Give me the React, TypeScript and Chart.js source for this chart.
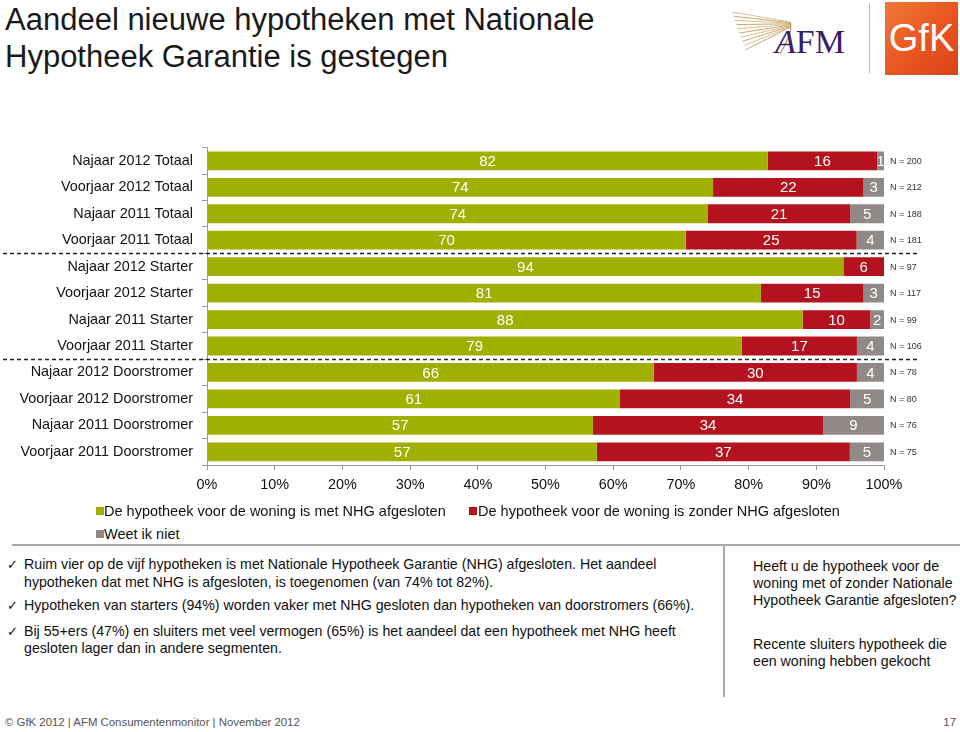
import React, { useEffect, useRef } from "react";
import { Chart, registerables } from "chart.js";

Chart.register(...registerables);

const categories = [
  "Najaar 2012 Totaal",
  "Voorjaar 2012 Totaal",
  "Najaar 2011 Totaal",
  "Voorjaar 2011 Totaal",
  "Najaar 2012 Starter",
  "Voorjaar 2012 Starter",
  "Najaar 2011 Starter",
  "Voorjaar 2011 Starter",
  "Najaar 2012 Doorstromer",
  "Voorjaar 2012 Doorstromer",
  "Najaar 2011 Doorstromer",
  "Voorjaar 2011 Doorstromer",
];
const metNHG = [82, 74, 74, 70, 94, 81, 88, 79, 66, 61, 57, 57];
const zonderNHG = [16, 22, 21, 25, 6, 15, 10, 17, 30, 34, 34, 37];
const weetNiet = [1, 3, 5, 4, 0, 3, 2, 4, 4, 5, 9, 5];
const sampleSizes = [200, 212, 188, 181, 97, 117, 99, 106, 78, 80, 76, 75];
const groupBreaks = [4, 8];
const seriesNames = [
  "De hypotheek voor de woning is met NHG afgesloten",
  "De hypotheek voor de woning is zonder NHG afgesloten",
  "Weet ik niet",
];
const seriesColors = ["#A0B000", "#B5121F", "#918987"];

const FONT = "'Liberation Sans', Arial, sans-serif";

const rawSeries = [metNHG, zonderNHG, weetNiet];
const totals = metNHG.map((v, i) => v + zonderNHG[i] + weetNiet[i]);
const shares = rawSeries.map((s) => s.map((v, i) => (v / totals[i]) * 100));

const overlayPlugin = {
  id: "overlay",
  afterDatasetsDraw(chart: any) {
    const ctx = chart.ctx;
    ctx.save();
    ctx.font = `15px ${FONT}`;
    ctx.fillStyle = "#ffffff";
    ctx.textAlign = "center";
    ctx.textBaseline = "middle";
    chart.data.datasets.forEach((ds: any, di: number) => {
      const meta = chart.getDatasetMeta(di);
      meta.data.forEach((el: any, i: number) => {
        const v = rawSeries[di][i];
        if (!v) return;
        const cx = (el.x + el.base) / 2;
        ctx.fillText(String(v), cx, el.y + 1);
      });
    });
    const yScale = chart.scales.y;
    const area = chart.chartArea;
    ctx.font = `9px ${FONT}`;
    ctx.fillStyle = "#333333";
    ctx.textAlign = "left";
    sampleSizes.forEach((n, i) => {
      ctx.fillText(`N = ${n}`, area.right + 6, yScale.getPixelForValue(i) + 0.5);
    });
    ctx.strokeStyle = "#222222";
    ctx.lineWidth = 1.5;
    ctx.setLineDash([4, 3]);
    groupBreaks.forEach((b) => {
      const y = Math.round((yScale.getPixelForValue(b - 1) + yScale.getPixelForValue(b)) / 2) + 0.5;
      ctx.beginPath();
      ctx.moveTo(3, y);
      ctx.lineTo(920, y);
      ctx.stroke();
    });
    ctx.restore();
  },
};

function ChartCanvas() {
  const ref = useRef<HTMLCanvasElement | null>(null);
  useEffect(() => {
    if (!ref.current) return;
    const chart = new Chart(ref.current, {
      type: "bar",
      data: {
        labels: categories,
        datasets: shares.map((d, i) => ({
          label: seriesNames[i],
          data: d,
          backgroundColor: seriesColors[i],
          borderWidth: 0,
          categoryPercentage: 1,
          barPercentage: 0.71,
        })),
      },
      options: {
        indexAxis: "y",
        responsive: false,
        animation: false,
        layout: { padding: { top: 7, right: 76, left: 0, bottom: 0 } },
        plugins: {
          legend: { display: false },
          tooltip: { enabled: false },
        },
        scales: {
          x: {
            stacked: true,
            min: 0,
            max: 100,
            ticks: {
              stepSize: 10,
              color: "#111",
              font: { family: FONT, size: 14.4 },
              padding: 6,
              callback: (v: any) => `${v}%`,
            },
            grid: { drawOnChartArea: false, drawTicks: true, tickLength: 5, color: "#9a9a9a" },
            border: { color: "#9a9a9a" },
            afterFit: (s: any) => {
              s.height = 40;
            },
          },
          y: {
            stacked: true,
            ticks: {
              color: "#111",
              font: { family: FONT, size: 14.4 },
              padding: 9,
            },
            grid: { drawOnChartArea: false, drawTicks: true, tickLength: 5, color: "#9a9a9a", offset: true },
            border: { color: "#9a9a9a" },
            afterFit: (s: any) => {
              s.width = 207;
            },
          },
        },
      },
      plugins: [overlayPlugin],
    } as any);
    return () => chart.destroy();
  }, []);
  return (
    <canvas
      ref={ref}
      width={960}
      height={375}
      style={{ position: "absolute", left: 0, top: 130, width: 960, height: 375 }}
    />
  );
}

const abs = (l: number, t: number, extra: any = {}) => ({ position: "absolute" as const, left: l, top: t, ...extra });

export default function App() {
  useEffect(() => {
    document.body.style.margin = "0";
  }, []);
  const text: any = { fontFamily: FONT, color: "#111", whiteSpace: "nowrap" };
  const bulletLines = [
    { y: 556, check: true, t: "Ruim vier op de vijf hypotheken is met Nationale Hypotheek Garantie (NHG) afgesloten. Het aandeel" },
    { y: 574, check: false, t: "hypotheken dat met NHG is afgesloten, is toegenomen (van 74% tot 82%)." },
    { y: 597, check: true, t: "Hypotheken van starters (94%) worden vaker met NHG gesloten dan hypotheken van doorstromers (66%)." },
    { y: 623, check: true, t: "Bij 55+ers (47%) en sluiters met veel vermogen (65%) is het aandeel dat een hypotheek met NHG heeft" },
    { y: 640, check: false, t: "gesloten lager dan in andere segmenten." },
  ];
  const sideLines = [
    { y: 558, t: "Heeft u de hypotheek voor de" },
    { y: 575, t: "woning met of zonder Nationale" },
    { y: 592, t: "Hypotheek Garantie afgesloten?" },
    { y: 636, t: "Recente sluiters hypotheek die" },
    { y: 653, t: "een woning hebben gekocht" },
  ];
  return (
    <div style={{ position: "fixed", left: 0, top: 0, width: 960, height: 732, background: "#fff", overflow: "hidden" }}>
      <div style={{ ...abs(5, 1), ...text, fontSize: 31, lineHeight: "37px", color: "#1a1a1a" }}>
        Aandeel nieuwe hypotheken met Nationale
        <br />
        Hypotheek Garantie is gestegen
      </div>
      <svg style={abs(728, 8)} width={72} height={50} viewBox="0 0 72 50">
        {[0, 1, 2, 3, 4, 5, 6, 7, 8, 9].map((k) => (
          <line
            key={k}
            x1={4 + k * 1.5}
            y1={4 + k * 4.2}
            x2={62}
            y2={14 + k * 0.6}
            stroke={k % 2 ? "#c9a96a" : "#d8c08e"}
            strokeWidth={1}
          />
        ))}
        <path d="M62 14 Q66 22 52 46" stroke="#b89858" strokeWidth={1.2} fill="none" />
      </svg>
      <div
        style={{
          ...abs(775, 24),
          fontFamily: "'Liberation Serif', 'DejaVu Serif', serif",
          fontSize: 34,
          color: "#3b1b6b",
          lineHeight: "36px",
        }}
      >
        <span style={{ fontStyle: "italic" }}>A</span>FM
      </div>
      <div style={{ ...abs(869, 3), width: 1, height: 70, background: "#b8b8b8" }} />
      <div
        style={{
          ...abs(885, 2),
          width: 73,
          height: 73,
          background: "linear-gradient(135deg, #f07a3a 0%, #e8541f 55%, #d9431a 100%)",
          color: "#fff",
          fontFamily: FONT,
          fontSize: 38,
          lineHeight: "73px",
          textAlign: "center",
        }}
      >
        GfK
      </div>
      <ChartCanvas />
      <div style={{ ...abs(96, 507), width: 8, height: 8, background: seriesColors[0] }} />
      <div style={{ ...abs(104, 503), ...text, fontSize: 14.5, lineHeight: "17px" }}>{seriesNames[0]}</div>
      <div style={{ ...abs(469, 507), width: 8, height: 8, background: seriesColors[1] }} />
      <div style={{ ...abs(478, 503), ...text, fontSize: 14.5, lineHeight: "17px" }}>{seriesNames[1]}</div>
      <div style={{ ...abs(96, 530), width: 8, height: 8, background: seriesColors[2] }} />
      <div style={{ ...abs(104, 526), ...text, fontSize: 14.5, lineHeight: "17px" }}>{seriesNames[2]}</div>
      <div style={{ ...abs(12, 544), width: 948, height: 2, background: "#a8a8a8" }} />
      <div style={{ ...abs(723, 545), width: 2, height: 152, background: "#a8a8a8" }} />
      {bulletLines.map((l, i) => (
        <React.Fragment key={i}>
          {l.check && <div style={{ ...abs(7, l.y), ...text, fontSize: 13, lineHeight: "17px" }}>✓</div>}
          <div style={{ ...abs(24, l.y), ...text, fontSize: 14.2, lineHeight: "17px" }}>{l.t}</div>
        </React.Fragment>
      ))}
      {sideLines.map((l, i) => (
        <div key={i} style={{ ...abs(753, l.y), ...text, fontSize: 14.2, lineHeight: "17px" }}>
          {l.t}
        </div>
      ))}
      <div style={{ ...abs(5, 714), ...text, fontSize: 11.4, lineHeight: "16px", color: "#555" }}>
        © GfK 2012 | AFM Consumentenmonitor | November 2012
      </div>
      <div style={{ ...abs(940, 714), ...text, fontSize: 11.4, lineHeight: "16px", color: "#555", width: 16, textAlign: "right" }}>
        17
      </div>
    </div>
  );
}
